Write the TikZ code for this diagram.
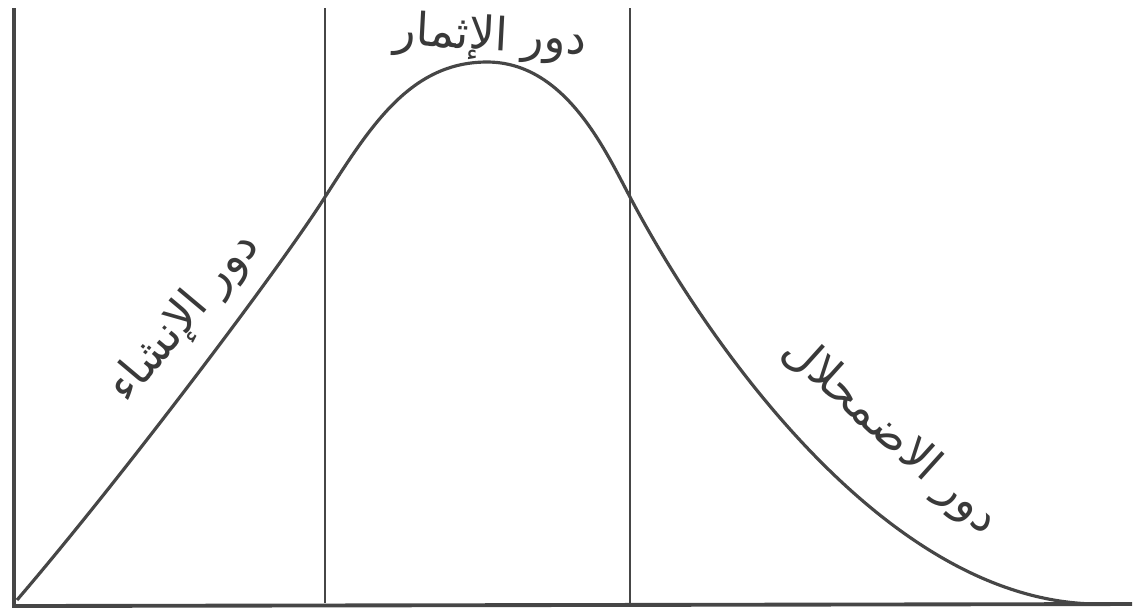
\documentclass[tikz,border=0pt]{standalone}
\usepackage{fontspec}
\newfontfamily\arabicfont[Script=Arabic]{DejaVu Sans}
\TeXXeTstate=1
\usetikzlibrary{positioning}

\begin{document}
\begin{tikzpicture}[x=0.01cm, y=-0.01cm,
  pencil/.style={gray!55!black, line width=0.8pt},
  phase/.style={font=\arabicfont\fontsize{13}{15}\selectfont, text=gray!45!black, inner sep=1pt}]
  \useasboundingbox (0,0) rectangle (1134,614);

  % Frame and phase borders
  \draw[pencil, line width=1.1pt] (14,8) -- (14,606) -- (1132,604);
  \draw[pencil] (325,8) -- (325,603);
  \draw[pencil] (630,8) -- (630,603);

  % Life curve
  \coordinate (start) at (17,600);
  \coordinate (rise) at (325,197);
  \coordinate (peak) at (487,62);
  \coordinate (fall) at (630,197);
  \coordinate (finish) at (1095,604);
  \draw[pencil, line width=0.9pt] (start)
    .. controls (120,480) and (280,268) .. (rise)
    .. controls (370,127) and (410,62) .. (peak)
    .. controls (565,62) and (605,150) .. (fall)
    .. controls (700,330) and (880,600) .. (finish);

  % Phase labels
  \node[phase, rotate=50] (growth) at (185,318) {\beginR دور الإنشاء\endR};
  \node[phase, rotate=-3] (fruit) at (490,38) {\beginR دور الإثمار\endR};
  \node[phase, rotate=-42] (decline) at (890,436) {\beginR دور الاضمحلال\endR};
\end{tikzpicture}
\end{document}
